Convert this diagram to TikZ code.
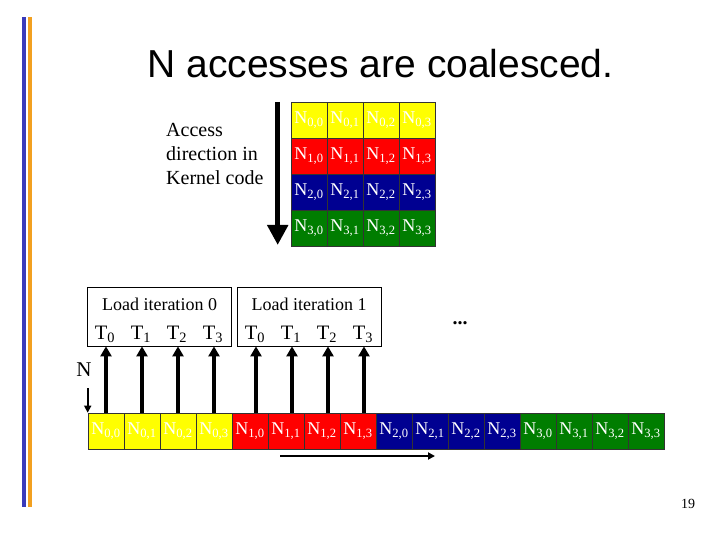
\documentclass[tikz,border=0pt]{standalone}
\usepackage{fontspec}
\setmainfont{Liberation Serif}
\newfontfamily\titlefont{Liberation Sans}
\usetikzlibrary{arrows.meta}
\definecolor{barblue}{RGB}{58,58,186}
\definecolor{barorange}{RGB}{242,160,32}
\definecolor{cellyellow}{RGB}{255,255,0}
\definecolor{cellred}{RGB}{255,0,0}
\definecolor{cellblue}{RGB}{0,0,145}
\definecolor{cellgreen}{RGB}{0,125,0}

\begin{document}
\begin{tikzpicture}[x=1pt,y=-1pt,
  cell/.style={draw=black!80,line width=0.6pt,minimum width=36pt,minimum height=36pt,inner sep=0pt,text=white,font=\fontsize{18}{22}\selectfont},
  loadbox/.style={draw=black,line width=0.8pt,minimum height=59pt,inner sep=0pt},
  loadarrow/.style={line width=3.6pt,-{Triangle[width=11pt,length=10pt]}},
  lbl/.style={inner sep=0pt,font=\fontsize{18}{24}\selectfont},
  tlbl/.style={inner sep=0pt,anchor=base,font=\fontsize{20.5}{24}\selectfont}]
\useasboundingbox (0,0) rectangle (720,540);
\fill[barblue] (22,17) rectangle (26,507);
\fill[barorange] (28,17) rectangle (32,507);
\node[inner sep=0pt,anchor=base,font=\titlefont\fontsize{39}{45}\selectfont] (title) at (380.5,77.7) {N accesses are coalesced.};
\node[lbl,anchor=north west,align=left,font=\fontsize{20}{24}\selectfont] (dirtext) at (166,123.5) {Access\\direction in\\Kernel code};
\coordinate (dirtop) at (277.7,102);
\coordinate (dirbot) at (277.7,245);
\draw[line width=5pt,-{Triangle[width=20pt,length=20pt]}] (dirtop) -- (dirbot);
% matrix
\node[cell,fill=cellyellow] (m00) at (309,120) {N\textsubscript{0,0}};
\node[cell,fill=cellyellow] (m01) at (345,120) {N\textsubscript{0,1}};
\node[cell,fill=cellyellow] (m02) at (381,120) {N\textsubscript{0,2}};
\node[cell,fill=cellyellow] (m03) at (417,120) {N\textsubscript{0,3}};
\node[cell,fill=cellred] (m10) at (309,156) {N\textsubscript{1,0}};
\node[cell,fill=cellred] (m11) at (345,156) {N\textsubscript{1,1}};
\node[cell,fill=cellred] (m12) at (381,156) {N\textsubscript{1,2}};
\node[cell,fill=cellred] (m13) at (417,156) {N\textsubscript{1,3}};
\node[cell,fill=cellblue] (m20) at (309,192) {N\textsubscript{2,0}};
\node[cell,fill=cellblue] (m21) at (345,192) {N\textsubscript{2,1}};
\node[cell,fill=cellblue] (m22) at (381,192) {N\textsubscript{2,2}};
\node[cell,fill=cellblue] (m23) at (417,192) {N\textsubscript{2,3}};
\node[cell,fill=cellgreen] (m30) at (309,228) {N\textsubscript{3,0}};
\node[cell,fill=cellgreen] (m31) at (345,228) {N\textsubscript{3,1}};
\node[cell,fill=cellgreen] (m32) at (381,228) {N\textsubscript{3,2}};
\node[cell,fill=cellgreen] (m33) at (417,228) {N\textsubscript{3,3}};
% load boxes
\node[loadbox,minimum width=144.4pt] (lb0) at (159.5,316.5) {};
\node[loadbox,minimum width=143.7pt] (lb1) at (309.2,316.5) {};
\node[lbl] (lt0) at (159.5,304) {Load iteration 0};
\node[lbl] (lt1) at (309.2,304) {Load iteration 1};
\node[tlbl] (t0) at (105,339) {T\textsubscript{0}};
\node[tlbl] (t1) at (141,339) {T\textsubscript{1}};
\node[tlbl] (t2) at (177,339) {T\textsubscript{2}};
\node[tlbl] (t3) at (213,339) {T\textsubscript{3}};
\node[tlbl] (t4) at (255,339) {T\textsubscript{0}};
\node[tlbl] (t5) at (291,339) {T\textsubscript{1}};
\node[tlbl] (t6) at (327,339) {T\textsubscript{2}};
\node[tlbl] (t7) at (363,339) {T\textsubscript{3}};
\node[lbl,anchor=base,font=\bfseries\fontsize{20}{24}\selectfont] (dots) at (460,324) {...};
% bottom row
\node[cell,fill=cellyellow] (b0) at (106,431) {N\textsubscript{0,0}};
\node[cell,fill=cellyellow] (b1) at (142,431) {N\textsubscript{0,1}};
\node[cell,fill=cellyellow] (b2) at (178,431) {N\textsubscript{0,2}};
\node[cell,fill=cellyellow] (b3) at (214,431) {N\textsubscript{0,3}};
\node[cell,fill=cellred] (b4) at (250,431) {N\textsubscript{1,0}};
\node[cell,fill=cellred] (b5) at (286,431) {N\textsubscript{1,1}};
\node[cell,fill=cellred] (b6) at (322,431) {N\textsubscript{1,2}};
\node[cell,fill=cellred] (b7) at (358,431) {N\textsubscript{1,3}};
\node[cell,fill=cellblue] (b8) at (394,431) {N\textsubscript{2,0}};
\node[cell,fill=cellblue] (b9) at (430,431) {N\textsubscript{2,1}};
\node[cell,fill=cellblue] (b10) at (466,431) {N\textsubscript{2,2}};
\node[cell,fill=cellblue] (b11) at (502,431) {N\textsubscript{2,3}};
\node[cell,fill=cellgreen] (b12) at (538,431) {N\textsubscript{3,0}};
\node[cell,fill=cellgreen] (b13) at (574,431) {N\textsubscript{3,1}};
\node[cell,fill=cellgreen] (b14) at (610,431) {N\textsubscript{3,2}};
\node[cell,fill=cellgreen] (b15) at (646,431) {N\textsubscript{3,3}};
% loads
\draw[loadarrow] (b0.north) -- (b0.north |- lb0.south);
\draw[loadarrow] (b1.north) -- (b1.north |- lb0.south);
\draw[loadarrow] (b2.north) -- (b2.north |- lb0.south);
\draw[loadarrow] (b3.north) -- (b3.north |- lb0.south);
\draw[loadarrow] ([xshift=6pt]b4.north) -- ([xshift=6pt]b4.north |- lb1.south);
\draw[loadarrow] ([xshift=6pt]b5.north) -- ([xshift=6pt]b5.north |- lb1.south);
\draw[loadarrow] ([xshift=6pt]b6.north) -- ([xshift=6pt]b6.north |- lb1.south);
\draw[loadarrow] ([xshift=6pt]b7.north) -- ([xshift=6pt]b7.north |- lb1.south);
\node[lbl,font=\fontsize{21}{24}\selectfont] (nlab) at (84,370) {N};
\draw[line width=1.6pt,-{Triangle[width=7pt,length=7pt]}] (b0.north west |- nlab.south) ++(0,11) -- (b0.north west);
\coordinate (sweepL) at (280,456);
\coordinate (sweepR) at (435,456);
\draw[line width=2pt,-{Triangle[width=7pt,length=7pt]}] (sweepL) -- (sweepR);
\node[lbl,font=\fontsize{14}{16}\selectfont] (page) at (688,504) {19};
\end{tikzpicture}
\end{document}
